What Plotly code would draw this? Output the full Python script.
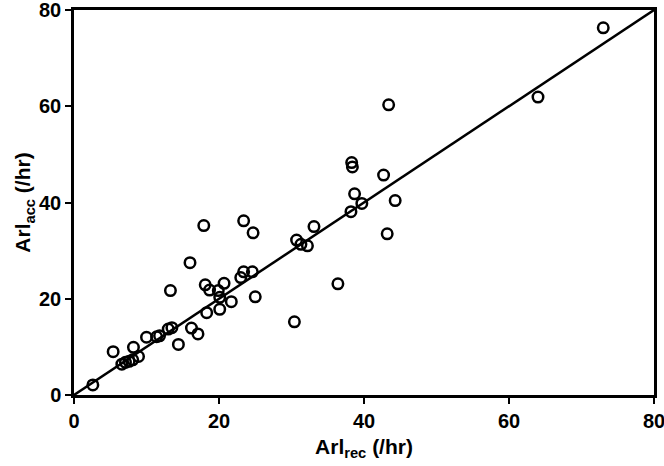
import plotly.graph_objects as go

arl_rec = [2.6, 5.4, 6.6, 7.1, 7.6, 8.1, 8.2, 8.9, 10.0, 11.4, 11.8, 13.0, 13.5, 13.3, 14.4,
           16.0, 16.2, 17.1, 17.9, 18.1, 18.7, 18.3, 19.9, 20.1, 20.1, 20.7, 21.7, 23.0, 23.4,
           23.4, 24.6, 24.7, 25.0, 30.4, 30.7, 31.3, 32.2, 33.1, 36.4, 38.2, 38.3, 38.4, 38.7,
           39.7, 42.7, 43.4, 43.2, 44.3, 64.0, 73.0]
arl_acc = [2.1, 9.0, 6.4, 6.8, 7.0, 7.3, 9.9, 8.0, 12.0, 12.1, 12.3, 13.7, 14.0, 21.7, 10.5,
           27.5, 13.9, 12.7, 35.2, 22.9, 21.8, 17.1, 21.7, 20.3, 17.8, 23.2, 19.4, 24.4, 25.6,
           36.2, 25.6, 33.7, 20.4, 15.2, 32.2, 31.3, 31.0, 35.0, 23.1, 38.1, 48.3, 47.4, 41.8,
           39.8, 45.7, 60.3, 33.5, 40.4, 61.9, 76.3]
identity_line = [0, 80]
tick_vals = [0, 20, 40, 60, 80]

fig = go.Figure()
fig.add_trace(go.Scatter(x=identity_line, y=identity_line, mode="lines",
                         line=dict(color="black", width=2.5), hoverinfo="skip"))
fig.add_trace(go.Scatter(x=arl_rec, y=arl_acc, mode="markers",
                         marker=dict(symbol="circle-open", size=10.5, color="black",
                                     line=dict(width=2.5, color="black"))))

axis_common = dict(range=[0, 80], tickvals=tick_vals, showgrid=False, zeroline=False,
                   showline=True, linecolor="black", linewidth=2.5, mirror=True,
                   ticks="outside", ticklen=6, tickwidth=2, tickcolor="black",
                   automargin=False, ticklabeloverflow="allow",
                   tickfont=dict(family="Liberation Sans, Arial", size=20, color="black", weight="bold"))

fig.update_layout(
    width=664, height=466,
    margin=dict(l=74, r=10, t=10, b=71),
    plot_bgcolor="white", paper_bgcolor="white",
    showlegend=False,
    xaxis=dict(**axis_common,
               title=dict(text="Arl<sub>rec</sub> (/hr)", standoff=9,
                          font=dict(family="Liberation Sans, Arial", size=21, color="black", weight="bold"))),
    yaxis=dict(**axis_common,
               title=dict(text="Arl<sub>acc</sub> (/hr)", standoff=3,
                          font=dict(family="Liberation Sans, Arial", size=21, color="black", weight="bold"))),
)

fig.write_html("out.html", config={"displayModeBar": False},
               post_script="document.body.style.margin='0';")
